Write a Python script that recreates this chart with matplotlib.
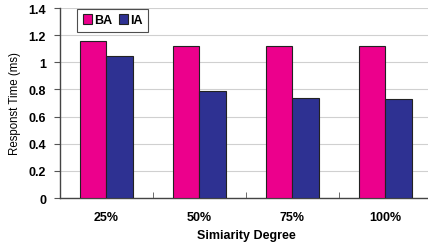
import numpy as np
from matplotlib import pyplot as plt
from matplotlib.ticker import FuncFormatter, FixedLocator

categories = ['25%', '50%', '75%', '100%']
ba_values = [1.16, 1.12, 1.12, 1.12]
ia_values = [1.05, 0.79, 0.74, 0.73]

plt.rcParams['font.family'] = ['Liberation Sans', 'DejaVu Sans']
plt.rcParams['font.weight'] = 'bold'

fig = plt.figure(figsize=(4.28, 2.51), dpi=100)
ax = fig.add_axes([0.140, 0.207, 0.869, 0.757])

x = np.arange(len(categories))
width = 0.2857
ax.bar(x - width / 2, ba_values, width, color='#EC008C', edgecolor='#222222', linewidth=0.8, label='BA', zorder=3)
ax.bar(x + width / 2, ia_values, width, color='#2E3192', edgecolor='#222222', linewidth=0.8, label='IA', zorder=3)

ax.set_xlim(-0.5, len(categories) - 0.5)
ax.set_ylim(0, 1.4)
ax.set_yticks(np.arange(0, 1.41, 0.2))
ax.yaxis.set_major_formatter(FuncFormatter(lambda v, p: '%g' % round(v, 1)))
ax.set_xticks(x)
ax.set_xticklabels(categories)
ax.xaxis.set_minor_locator(FixedLocator(np.arange(0.5, len(categories) - 0.5, 1)))
ax.tick_params(axis='x', which='major', length=0, pad=9, labelsize=9)
ax.tick_params(axis='x', which='minor', direction='in', length=4, color='#555555')
ax.tick_params(axis='y', length=4, color='#555555', labelsize=9, pad=6)

ax.grid(axis='y', color='#d0d0d0', linewidth=0.8, zorder=0)
for s in ['top', 'right']:
    ax.spines[s].set_visible(False)
for s in ['left', 'bottom']:
    ax.spines[s].set_color('#444444')
    ax.spines[s].set_linewidth(1.0)

ax.set_xlabel('Simiarity Degree', fontsize=9, fontweight='bold', labelpad=5)
ax.set_ylabel('Responst Time (ms)', fontsize=8.3, fontweight='normal', labelpad=5)

leg = ax.legend(loc='upper left', bbox_to_anchor=(0.045, 1.0), ncol=2, fontsize=9,
                frameon=True, fancybox=False, edgecolor='#222222',
                handlelength=0.75, handleheight=0.75, handletextpad=0.15,
                columnspacing=0.5, borderpad=0.45, borderaxespad=0.05)
leg.get_frame().set_linewidth(0.8)

fig.savefig('out.png', dpi=100)
